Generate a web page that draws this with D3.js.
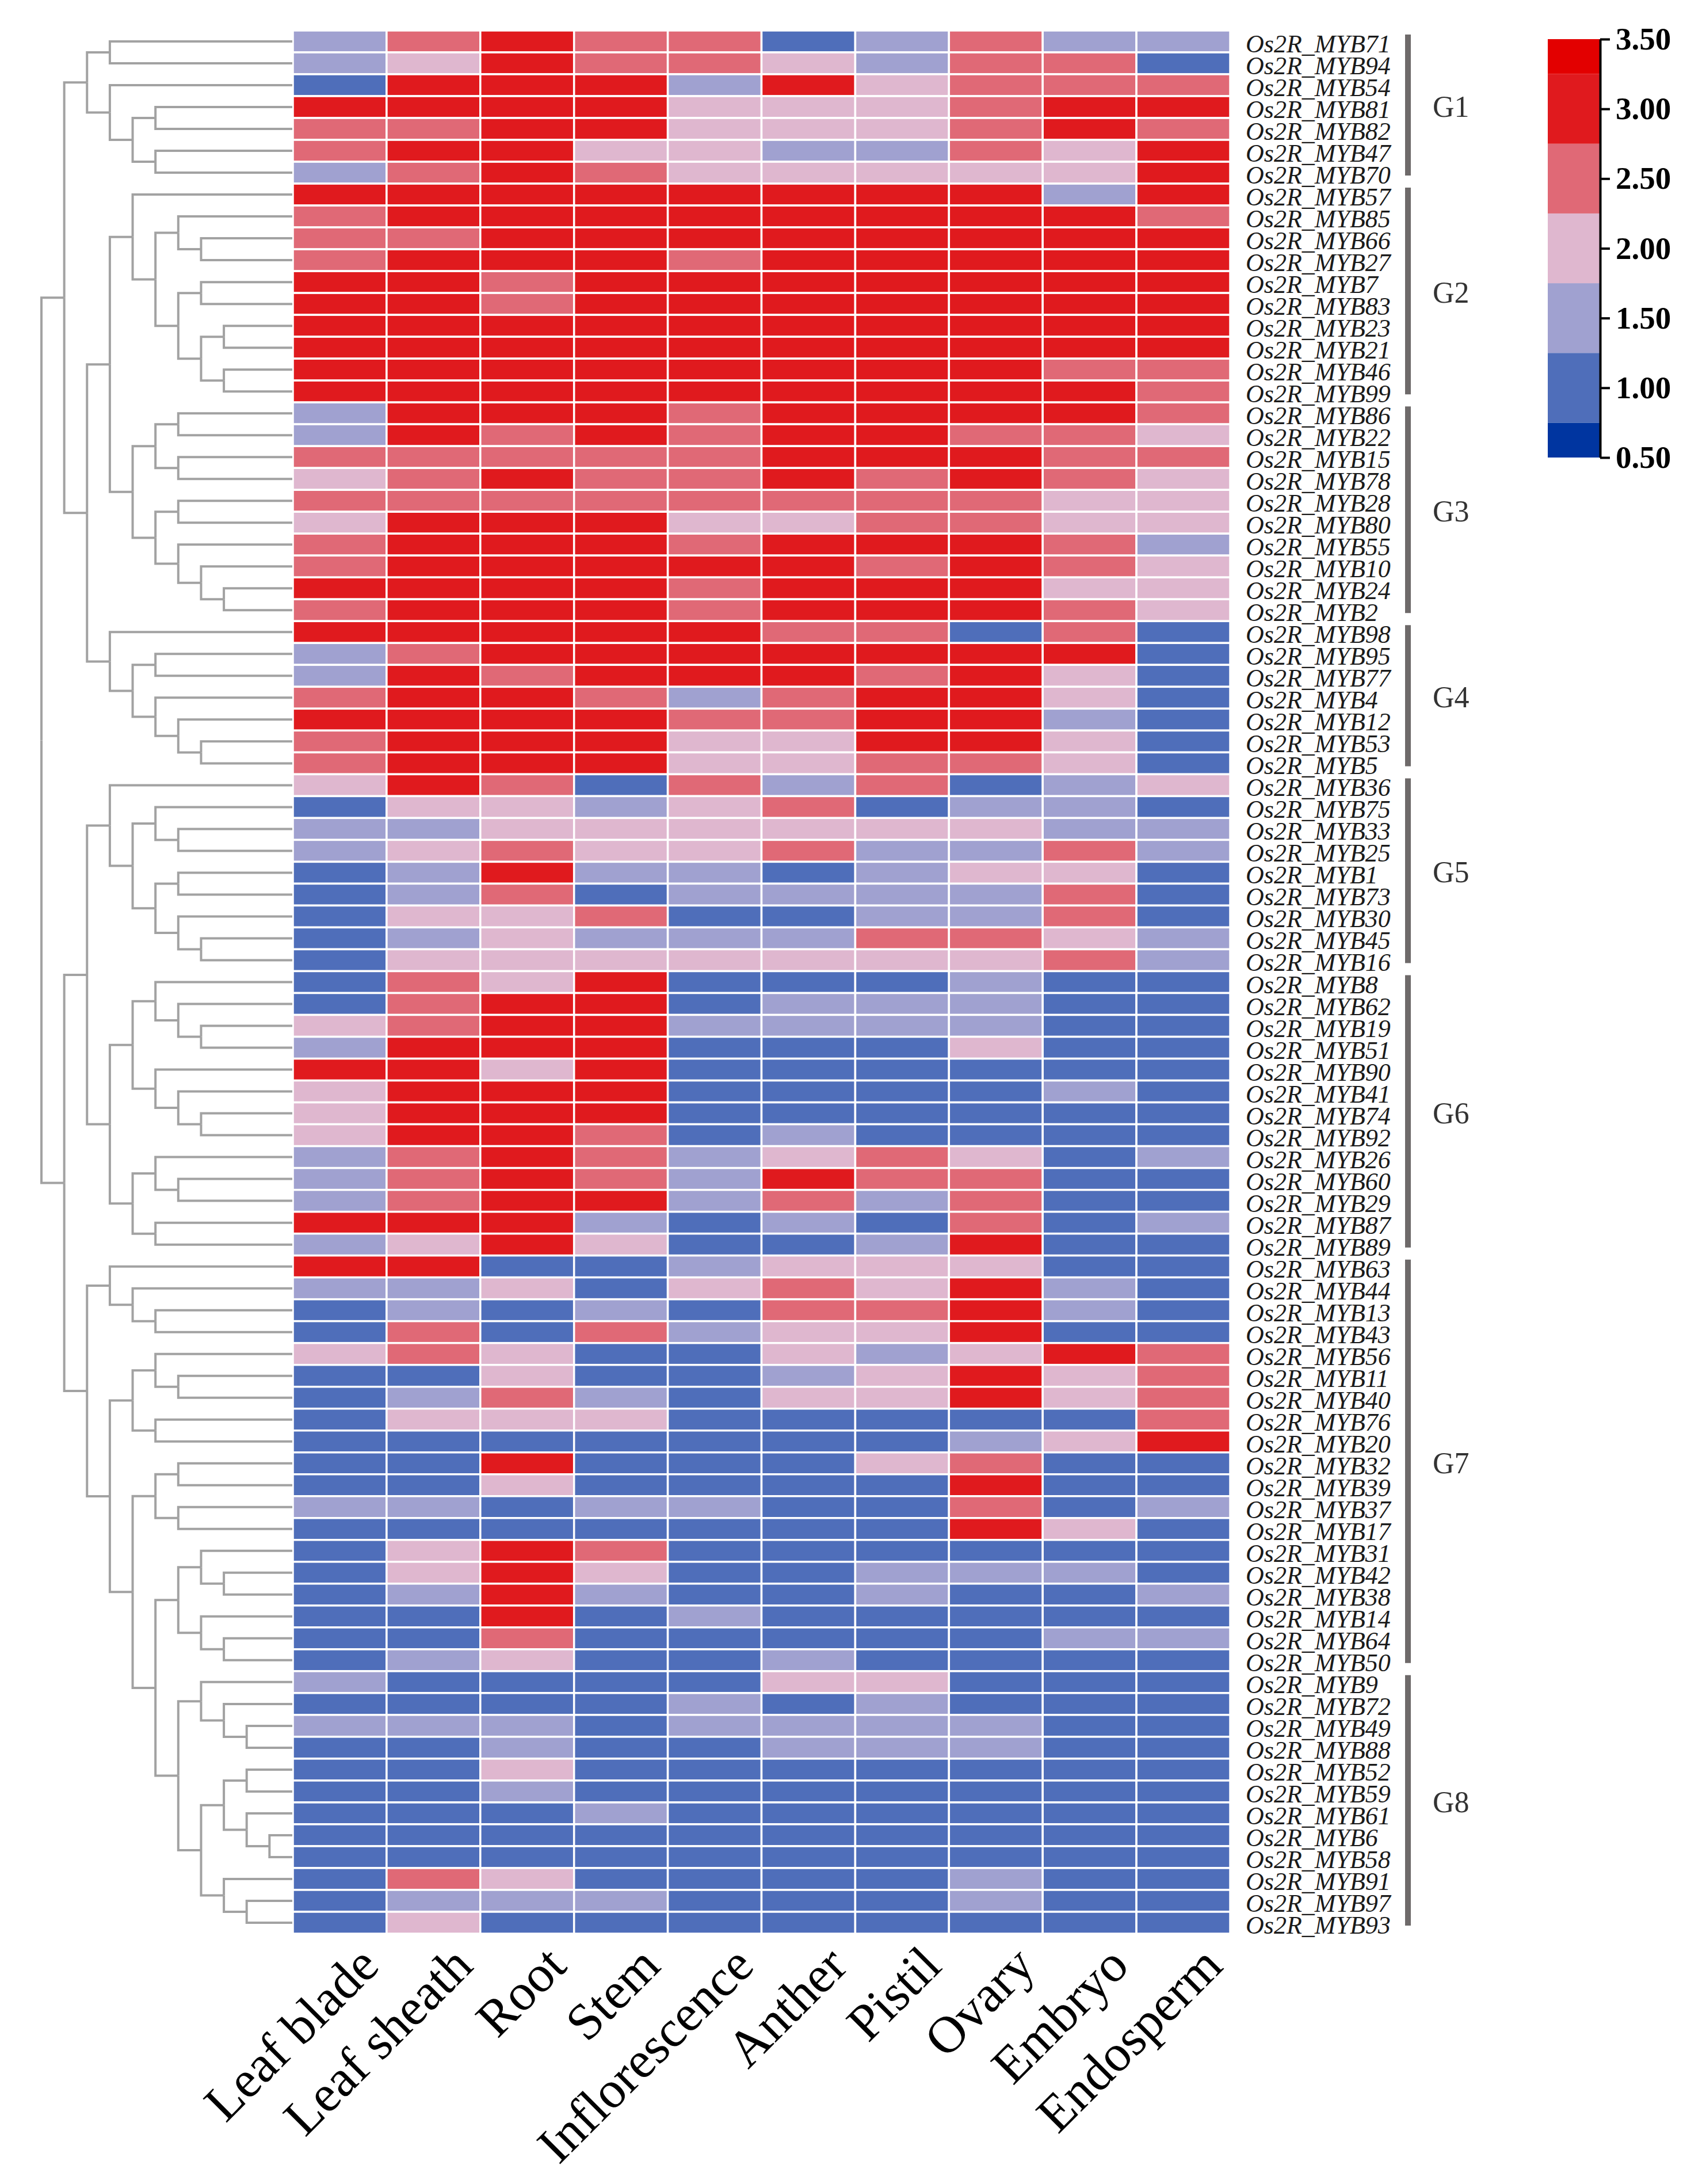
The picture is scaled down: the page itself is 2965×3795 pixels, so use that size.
<!DOCTYPE html>
<html lang="en">
<head>
<meta charset="utf-8">
<title>Os2R MYB expression heatmap</title>
<script src="https://cdn.jsdelivr.net/npm/d3@7"></script>
<style>
  body { margin: 0; background: #fff; }
  text { font-family: "Liberation Serif", "Times New Roman", serif; }
</style>
</head>
<body>
<script>
// columns of the heatmap
var tissues = ["Leaf blade", "Leaf sheath", "Root", "Stem", "Inflorescence",
               "Anther", "Pistil", "Ovary", "Embryo", "Endosperm"];

// rows, top to bottom (same order as the dendrogram leaves)
var genes = ["MYB71","MYB94","MYB54","MYB81","MYB82","MYB47","MYB70",
  "MYB57","MYB85","MYB66","MYB27","MYB7","MYB83","MYB23","MYB21","MYB46","MYB99",
  "MYB86","MYB22","MYB15","MYB78","MYB28","MYB80","MYB55","MYB10","MYB24","MYB2",
  "MYB98","MYB95","MYB77","MYB4","MYB12","MYB53","MYB5",
  "MYB36","MYB75","MYB33","MYB25","MYB1","MYB73","MYB30","MYB45","MYB16",
  "MYB8","MYB62","MYB19","MYB51","MYB90","MYB41","MYB74","MYB92","MYB26","MYB60","MYB29","MYB87","MYB89",
  "MYB63","MYB44","MYB13","MYB43","MYB56","MYB11","MYB40","MYB76","MYB20","MYB32","MYB39","MYB37","MYB17",
  "MYB31","MYB42","MYB38","MYB14","MYB64","MYB50",
  "MYB9","MYB72","MYB49","MYB88","MYB52","MYB59","MYB61","MYB6","MYB58","MYB91","MYB97","MYB93"];

// expression level per gene, one value per tissue
var values = [
  [1.5,2.5,3,2.5,2.5,1,1.5,2.5,1.5,1.5],
  [1.5,2,3,2.5,2.5,2,1.5,2.5,2.5,1],
  [1,3,3,3,1.5,3,2,2.5,2.5,2.5],
  [3,3,3,3,2,2,2,2.5,3,3],
  [2.5,2.5,3,3,2,2,2,2.5,3,2.5],
  [2.5,3,3,2,2,1.5,1.5,2.5,2,3],
  [1.5,2.5,3,2.5,2,2,2,2,2,3],
  [3,3,3,3,3,3,3,3,1.5,3],
  [2.5,3,3,3,3,3,3,3,3,2.5],
  [2.5,2.5,3,3,3,3,3,3,3,3],
  [2.5,3,3,3,2.5,3,3,3,3,3],
  [3,3,2.5,3,3,3,3,3,3,3],
  [3,3,2.5,3,3,3,3,3,3,3],
  [3,3,3,3,3,3,3,3,3,3],
  [3,3,3,3,3,3,3,3,3,3],
  [3,3,3,3,3,3,3,3,2.5,2.5],
  [3,3,3,3,3,3,3,3,3,2.5],
  [1.5,3,3,3,2.5,3,3,3,3,2.5],
  [1.5,3,2.5,3,2.5,3,3,2.5,2.5,2],
  [2.5,2.5,2.5,2.5,2.5,3,3,3,2.5,2.5],
  [2,2.5,3,2.5,2.5,3,2.5,3,2.5,2],
  [2.5,2.5,2.5,2.5,2.5,2.5,2.5,2.5,2,2],
  [2,3,3,3,2,2,2.5,2.5,2,2],
  [2.5,3,3,3,2.5,3,3,3,2.5,1.5],
  [2.5,3,3,3,3,3,2.5,3,2.5,2],
  [3,3,3,3,2.5,3,3,3,2,2],
  [2.5,3,3,3,2.5,3,3,3,2.5,2],
  [3,3,3,3,3,2.5,2.5,1,2.5,1],
  [1.5,2.5,3,3,3,3,3,3,3,1],
  [1.5,3,2.5,3,3,3,2.5,3,2,1],
  [2.5,3,3,2.5,1.5,2.5,3,3,2,1],
  [3,3,3,3,2.5,2.5,3,3,1.5,1],
  [2.5,3,3,3,2,2,3,3,2,1],
  [2.5,3,3,3,2,2,2.5,2.5,2,1],
  [2,3,2.5,1,2.5,1.5,2.5,1,1.5,2],
  [1,2,2,1.5,2,2.5,1,1.5,1.5,1],
  [1.5,1.5,2,2,2,2,2,2,1.5,1.5],
  [1.5,2,2.5,2,2,2.5,1.5,1.5,2.5,1.5],
  [1,1.5,3,1.5,1.5,1,1.5,2,2,1],
  [1,1.5,2.5,1,1.5,1.5,1.5,1.5,2.5,1],
  [1,2,2,2.5,1,1,1.5,1.5,2.5,1],
  [1,1.5,2,1.5,1.5,1.5,2.5,2.5,2,1.5],
  [1,2,2,2,2,2,2,2,2.5,1.5],
  [1,2.5,2,3,1,1,1,1.5,1,1],
  [1,2.5,3,3,1,1.5,1.5,1.5,1,1],
  [2,2.5,3,3,1.5,1.5,1.5,1.5,1,1],
  [1.5,3,3,3,1,1,1,2,1,1],
  [3,3,2,3,1,1,1,1,1,1],
  [2,3,3,3,1,1,1,1,1.5,1],
  [2,3,3,3,1,1,1,1,1,1],
  [2,3,3,2.5,1,1.5,1,1,1,1],
  [1.5,2.5,3,2.5,1.5,2,2.5,2,1,1.5],
  [1.5,2.5,3,2.5,1.5,3,2.5,2.5,1,1],
  [1.5,2.5,3,3,1.5,2.5,1.5,2.5,1,1],
  [3,3,3,1.5,1,1.5,1,2.5,1,1.5],
  [1.5,2,3,2,1,1,1.5,3,1,1],
  [3,3,1,1,1.5,2,2,2,1,1],
  [1.5,1.5,2,1,2,2.5,2,3,1.5,1],
  [1,1.5,1,1.5,1,2.5,2.5,3,1.5,1],
  [1,2.5,1,2.5,1.5,2,2,3,1,1],
  [2,2.5,2,1,1,2,1.5,2,3,2.5],
  [1,1,2,1,1,1.5,2,3,2,2.5],
  [1,1.5,2.5,1.5,1,2,2,3,2,2.5],
  [1,2,2,2,1,1,1,1,1,2.5],
  [1,1,1,1,1,1,1,1.5,2,3],
  [1,1,3,1,1,1,2,2.5,1,1],
  [1,1,2,1,1,1,1,3,1,1],
  [1.5,1.5,1,1.5,1.5,1,1,2.5,1,1.5],
  [1,1,1,1,1,1,1,3,2,1],
  [1,2,3,2.5,1,1,1,1,1,1],
  [1,2,3,2,1,1,1.5,1.5,1.5,1],
  [1,1.5,3,1.5,1,1,1.5,1,1,1.5],
  [1,1,3,1,1.5,1,1,1,1,1],
  [1,1,2.5,1,1,1,1,1,1.5,1.5],
  [1,1.5,2,1,1,1.5,1,1,1,1],
  [1.5,1,1,1,1,2,2,1,1,1],
  [1,1,1,1,1.5,1,1.5,1,1,1],
  [1.5,1.5,1.5,1,1.5,1.5,1.5,1.5,1,1],
  [1,1,1.5,1,1,1.5,1.5,1.5,1,1],
  [1,1,2,1,1,1,1,1,1,1],
  [1,1,1.5,1,1,1,1,1,1,1],
  [1,1,1,1.5,1,1,1,1,1,1],
  [1,1,1,1,1,1,1,1,1,1],
  [1,1,1,1,1,1,1,1,1,1],
  [1,2.5,2,1,1,1,1,1.5,1,1],
  [1,1.5,1.5,1.5,1,1,1,1.5,1,1],
  [1,2,1,1,1,1,1,1,1,1]
];

// clusters shown on the right, with number of rows in each
var groupNames = ["G1","G2","G3","G4","G5","G6","G7","G8"];
var groupSizes = [7, 10, 10, 7, 9, 13, 19, 12];

// colour key
var legendTicks = [3.5, 3.0, 2.5, 2.0, 1.5, 1.0, 0.5];
var colorBreaks = [0.75, 1.25, 1.75, 2.25, 2.75, 3.25];
var colorSteps = ["#0035a0","#4f6eba","#a0a1d0","#dfb7cf","#e06976","#e01a1e","#e30000"];

// row dendrogram as nested pairs
var tree = [
  [ // G1 .. G4
    [["MYB71","MYB94"], ["MYB54", [["MYB81","MYB82"], ["MYB47","MYB70"]]]],
    [
      [
        ["MYB57", [["MYB85", ["MYB66","MYB27"]], [["MYB7","MYB83"], [["MYB23","MYB21"], ["MYB46","MYB99"]]]]],
        [[["MYB86","MYB22"], ["MYB15","MYB78"]], [["MYB28","MYB80"], ["MYB55", ["MYB10", ["MYB24","MYB2"]]]]]
      ],
      ["MYB98", [["MYB95","MYB77"], ["MYB4", ["MYB12", ["MYB53","MYB5"]]]]]
    ]
  ],
  [ // G5 .. G8
    [
      ["MYB36", [["MYB75", ["MYB33","MYB25"]], [["MYB1","MYB73"], ["MYB30", ["MYB45","MYB16"]]]]],
      [[["MYB8", ["MYB62", ["MYB19","MYB51"]]], ["MYB90", ["MYB41", ["MYB74","MYB92"]]]],
       [["MYB26", ["MYB60","MYB29"]], ["MYB87","MYB89"]]]
    ],
    [
      ["MYB63", ["MYB44", ["MYB13","MYB43"]]],
      [
        [["MYB56", ["MYB11","MYB40"]], ["MYB76","MYB20"]],
        [
          [["MYB32","MYB39"], ["MYB37","MYB17"]],
          [
            [["MYB31", ["MYB42","MYB38"]], ["MYB14", ["MYB64","MYB50"]]],
            [["MYB9", ["MYB72", ["MYB49","MYB88"]]],
             [[["MYB52","MYB59"], ["MYB61", ["MYB6","MYB58"]]], ["MYB91", ["MYB97","MYB93"]]]]
          ]
        ]
      ]
    ]
  ]
];

var W = 2965, H = 3795;

var svg = d3.select("body").append("svg")
  .attr("width", W)
  .attr("height", H);

svg.append("rect").attr("width", W).attr("height", H).attr("fill", "#fff");

var x = d3.scaleBand().domain(tissues).range([509, 2138]);
var y = d3.scaleBand().domain(genes).range([53, 3360]);
var color = d3.scaleThreshold().domain(colorBreaks).range(colorSteps);

// heatmap cells
var rows = svg.append("g").selectAll("g")
  .data(genes)
  .enter().append("g");

rows.selectAll("rect")
  .data(function(g, i) {
    return tissues.map(function(t, j) { return { gene: g, tissue: t, v: values[i][j] }; });
  })
  .enter().append("rect")
  .attr("x", function(d) { return x(d.tissue); })
  .attr("y", function(d) { return y(d.gene); })
  .attr("width", x.bandwidth())
  .attr("height", y.bandwidth())
  .attr("fill", function(d) { return color(d.v); })
  .attr("stroke", "#fff")
  .attr("stroke-width", 3.5);

// gene labels
svg.append("g").selectAll("text")
  .data(genes)
  .enter().append("text")
  .attr("x", 2165)
  .attr("y", function(g) { return y(g) + y.bandwidth() / 2 + 19; })
  .attr("font-size", 44)
  .attr("font-style", "italic")
  .attr("fill", "#1a1a1a")
  .text(function(g) { return "Os2R_" + g; });

// tissue labels, rotated
svg.append("g").selectAll("text")
  .data(tissues)
  .enter().append("text")
  .attr("transform", function(t) {
    return "translate(" + (x(t) + x.bandwidth() / 2 + 72) + ",3420) rotate(-45)";
  })
  .attr("text-anchor", "end")
  .attr("font-size", 90)
  .attr("fill", "#000")
  .text(function(t) { return t; });

// dendrogram
var depthX = d3.scaleLinear().domain([0, 11]).range([72, 508]);
var root = d3.hierarchy(tree, function(d) { return Array.isArray(d) ? d : null; });
root.eachAfter(function(n) {
  if (n.children) {
    n.px = depthX(n.depth);
    n.py = (n.children[0].py + n.children[n.children.length - 1].py) / 2;
  } else {
    n.px = depthX(11);
    n.py = y(n.data) + y.bandwidth() / 2;
  }
});

svg.append("g").selectAll("path")
  .data(root.links())
  .enter().append("path")
  .attr("d", function(l) {
    return "M" + l.source.px + "," + l.source.py + "V" + l.target.py + "H" + l.target.px;
  })
  .attr("fill", "none")
  .attr("stroke", "#a2a2a2")
  .attr("stroke-width", 4);

// group brackets
var start = 0;
var groups = groupNames.map(function(name, i) {
  var g = { name: name, first: genes[start], last: genes[start + groupSizes[i] - 1] };
  start += groupSizes[i];
  return g;
});

var grp = svg.append("g").selectAll("g")
  .data(groups)
  .enter().append("g");

grp.append("line")
  .attr("x1", 2447).attr("x2", 2447)
  .attr("y1", function(d) { return y(d.first) + 7; })
  .attr("y2", function(d) { return y(d.last) + y.bandwidth() - 14; })
  .attr("stroke", "#6e6a6a")
  .attr("stroke-width", 10);

grp.append("text")
  .attr("x", 2490)
  .attr("y", function(d) { return (y(d.first) + y(d.last) + y.bandwidth()) / 2 + 17; })
  .attr("font-size", 52)
  .attr("fill", "#333")
  .text(function(d) { return d.name; });

// colour key
var vScale = d3.scaleLinear().domain([0.5, 3.5]).range([795, 68]);
var bounds = [0.5].concat(colorBreaks, [3.5]);

svg.append("g").selectAll("rect")
  .data(colorSteps)
  .enter().append("rect")
  .attr("x", 2690)
  .attr("width", 91)
  .attr("y", function(c, i) { return vScale(bounds[i + 1]); })
  .attr("height", function(c, i) { return vScale(bounds[i]) - vScale(bounds[i + 1]); })
  .attr("fill", function(c) { return c; });

var legendAxis = svg.append("g")
  .attr("transform", "translate(2781,0)")
  .call(d3.axisRight(vScale)
    .tickValues(legendTicks)
    .tickFormat(d3.format(".2f"))
    .tickSize(17)
    .tickSizeOuter(0)
    .tickPadding(10));

legendAxis.select(".domain").attr("stroke", "#000").attr("stroke-width", 4);
legendAxis.selectAll(".tick line").attr("stroke", "#000").attr("stroke-width", 4);
legendAxis.selectAll(".tick text")
  .attr("font-family", "'Liberation Serif', 'Times New Roman', serif")
  .attr("font-size", 55)
  .attr("font-weight", "bold")
  .attr("fill", "#000");
</script>
</body>
</html>
